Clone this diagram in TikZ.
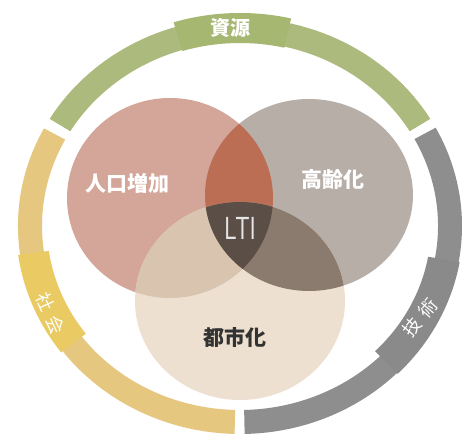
\documentclass[tikz,border=0pt]{standalone}
\usepackage{fontspec}
\newfontfamily\cjk{Noto Sans CJK JP}
\newfontfamily\ltifont{Open Sans}
\definecolor{ringG}{HTML}{ADBA7E}
\definecolor{tabG}{HTML}{A5B771}
\definecolor{ringY}{HTML}{E6C77F}
\definecolor{tabY}{HTML}{EACB63}
\definecolor{ringK}{HTML}{8E8E8E}
\definecolor{tabK}{HTML}{8A8A8A}
\definecolor{cA}{HTML}{D3A699}
\definecolor{cB}{HTML}{B8AEA8}
\definecolor{cC}{HTML}{EDE0D1}
\definecolor{cAB}{HTML}{BC6E54}
\definecolor{cAC}{HTML}{D9C4AF}
\definecolor{cBC}{HTML}{8B7B6E}
\definecolor{cABC}{HTML}{5B4E46}
\newcommand\annseg[7]{%
  \fill[#1] (#2:#4 and #5) arc[start angle=#2, end angle=#3, x radius=#4, y radius=#5]
    -- (#3:#6 and #7) arc[start angle=#3, end angle=#2, x radius=#6, y radius=#7] -- cycle;}
\tikzset{
  venntext/.style={font=\cjk\bfseries\fontsize{21}{21}\selectfont, inner sep=0pt},
  ringtext/.style={font=\cjk\fontsize{18}{18}\selectfont, text=white, inner sep=0pt}
}
\begin{document}
\begin{tikzpicture}[x=1pt,y=1pt]
\useasboundingbox (0,0) rectangle (464,436);
\fill[white] (0,0) rectangle (464,436);
% ring
\begin{scope}[shift={(240,210)}]
  \annseg{ringG}{31}{149}{222}{208}{198}{184}
  \annseg{ringY}{152}{268.6}{222}{208}{198}{184}
  \annseg{ringK}{271.2}{388.2}{222}{208}{198}{184}
  \annseg{tabG}{77}{107}{227}{213}{197}{183}
  \annseg{tabY}{188}{217}{224}{210}{193}{179}
  \annseg{tabK}{315}{350}{223}{209}{191}{177}
\end{scope}
\node[ringtext, font=\cjk\bfseries\fontsize{20}{20}\selectfont] (res) at (230,408) {資源};
\node[ringtext, rotate=-66] (soc1) at (45,134) {社};
\node[ringtext, rotate=-66] (soc2) at (55,111) {会};
\node[ringtext, rotate=50] (tec1) at (412,109) {技};
\node[ringtext, rotate=50] (tec2) at (428,128) {術};
% venn
\def\pA{(170,238) ellipse [x radius=103, y radius=100]}
\def\pB{(309,241) ellipse [x radius=104, y radius=96]}
\def\pC{(240,135) ellipse [x radius=105, y radius=99]}
\fill[cA] \pA;
\fill[cB] \pB;
\fill[cC] \pC;
\begin{scope}\clip \pA; \fill[cAB] \pB; \end{scope}
\begin{scope}\clip \pA; \fill[cAC] \pC; \end{scope}
\begin{scope}\clip \pB; \fill[cBC] \pC; \end{scope}
\begin{scope}\clip \pA; \clip \pB; \fill[cABC] \pC; \end{scope}
\node[venntext, text=white] (pop) at (127,253) {人口増加};
\node[venntext, text=white] (age) at (333,256) {高齢化};
\node[venntext, text=black!80] (urb) at (235,99) {都市化};
\node[inner sep=0pt, text=black!10, font=\ltifont\fontsize{31}{31}\selectfont] (lti) at (240,208) {\scalebox{0.78}[1]{LTI}};
\end{tikzpicture}
\end{document}
